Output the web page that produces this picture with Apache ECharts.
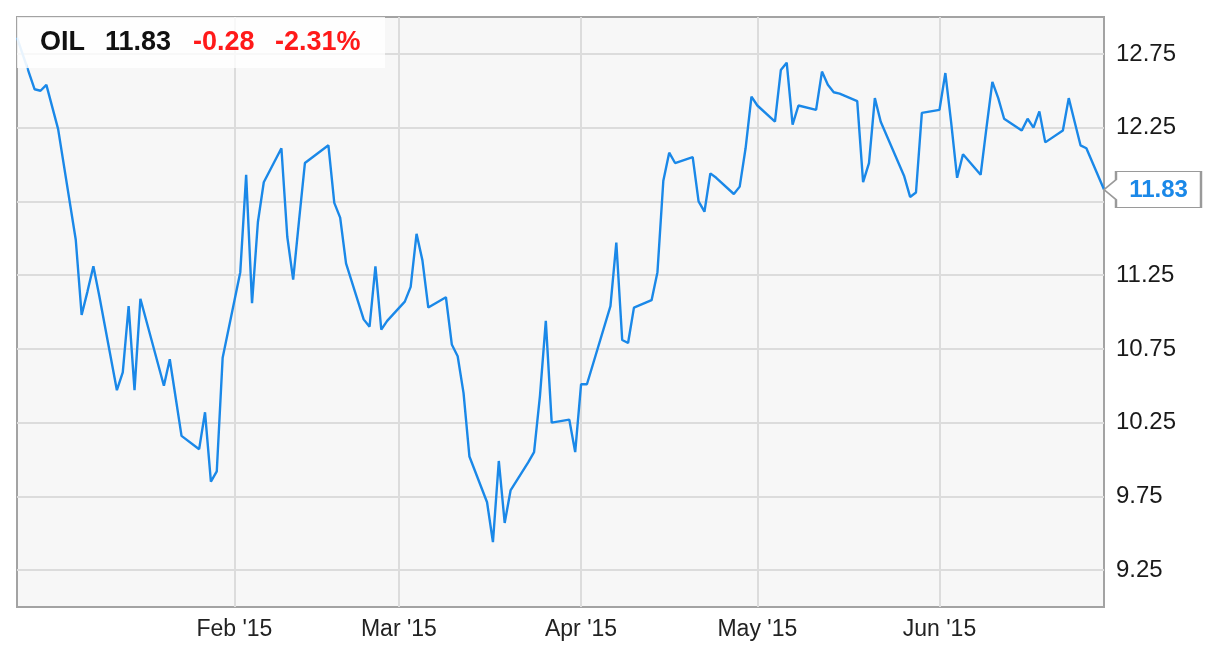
<!DOCTYPE html>
<html>
<head>
<meta charset="utf-8">
<script src="https://cdn.jsdelivr.net/npm/echarts@6/dist/echarts.min.js"></script>
<style>
html,body{margin:0;padding:0;background:#fff;}
#chart{width:1224px;height:660px;}
</style>
</head>
<body>
<div id="chart"></div>
<script>
var ticker = 'OIL';
var dates = ['2014-12-26','2014-12-29','2014-12-30','2014-12-31',
'2015-01-02','2015-01-05','2015-01-06','2015-01-07','2015-01-08','2015-01-09','2015-01-12','2015-01-13','2015-01-14','2015-01-15','2015-01-16','2015-01-20','2015-01-21','2015-01-22','2015-01-23','2015-01-26','2015-01-27','2015-01-28','2015-01-29','2015-01-30',
'2015-02-02','2015-02-03','2015-02-04','2015-02-05','2015-02-06','2015-02-09','2015-02-10','2015-02-11','2015-02-12','2015-02-13','2015-02-17','2015-02-18','2015-02-19','2015-02-20','2015-02-23','2015-02-24','2015-02-25','2015-02-26','2015-02-27',
'2015-03-02','2015-03-03','2015-03-04','2015-03-05','2015-03-06','2015-03-09','2015-03-10','2015-03-11','2015-03-12','2015-03-13','2015-03-16','2015-03-17','2015-03-18','2015-03-19','2015-03-20','2015-03-23','2015-03-24','2015-03-25','2015-03-26','2015-03-27','2015-03-30','2015-03-31',
'2015-04-01','2015-04-02','2015-04-06','2015-04-07','2015-04-08','2015-04-09','2015-04-10','2015-04-13','2015-04-14','2015-04-15','2015-04-16','2015-04-17','2015-04-20','2015-04-21','2015-04-22','2015-04-23','2015-04-24','2015-04-27','2015-04-28','2015-04-29','2015-04-30',
'2015-05-01','2015-05-04','2015-05-05','2015-05-06','2015-05-07','2015-05-08','2015-05-11','2015-05-12','2015-05-13','2015-05-14','2015-05-15','2015-05-18','2015-05-19','2015-05-20','2015-05-21','2015-05-22','2015-05-26','2015-05-27','2015-05-28','2015-05-29',
'2015-06-01','2015-06-02','2015-06-03','2015-06-04','2015-06-05','2015-06-08','2015-06-09','2015-06-10','2015-06-11','2015-06-12','2015-06-15','2015-06-16','2015-06-17','2015-06-18','2015-06-19','2015-06-22','2015-06-23','2015-06-24','2015-06-25','2015-06-26','2015-06-29'];
var prices = [12.86,12.51,12.50,12.54,
12.24,11.49,10.98,11.14,11.31,11.11,10.47,10.59,11.04,10.47,11.09,10.50,10.68,10.42,10.16,10.07,10.32,9.85,9.92,10.69,
11.27,11.93,11.06,11.61,11.88,12.11,11.51,11.22,11.62,12.01,12.13,11.74,11.64,11.33,10.95,10.90,11.31,10.88,10.94,
11.07,11.17,11.53,11.35,11.03,11.10,10.78,10.70,10.45,10.02,9.71,9.44,9.99,9.57,9.79,9.98,10.05,10.43,10.94,10.25,10.27,10.05,
10.51,10.51,11.04,11.47,10.81,10.79,11.03,11.08,11.27,11.89,12.08,12.01,12.05,11.75,11.68,11.94,11.91,11.80,11.85,12.11,12.46,
12.40,12.29,12.64,12.69,12.27,12.40,12.37,12.63,12.54,12.49,12.48,12.43,11.88,12.01,12.45,12.29,11.92,11.78,11.81,12.35,
12.37,12.62,12.28,11.91,12.07,11.93,12.25,12.56,12.45,12.31,12.23,12.31,12.25,12.36,12.15,12.23,12.45,12.29,12.13,12.11,11.83];
var xTickDates = ['2015-02-01','2015-03-01','2015-04-01','2015-05-01','2015-06-01'];
var xTickLabels = ["Feb '15","Mar '15","Apr '15","May '15","Jun '15"];
var yTicks = [9.25, 9.75, 10.25, 10.75, 11.25, 11.75, 12.25, 12.75];
var xRange = ['2014-12-26', '2015-06-29'];
var yRange = [9, 13];

function ts(s){ var p = s.split('-'); return Date.UTC(+p[0], +p[1]-1, +p[2]); }

var seriesData = dates.map(function(d, i){ return [ts(d), prices[i]]; });
var last = prices[prices.length-1];
var prev = prices[prices.length-2];
var chg = last - prev;
var pct = chg / prev * 100;
var xTickTs = xTickDates.map(ts);

var blue = '#1a88e8';
var chart = echarts.init(document.getElementById('chart'));
var font = '"Liberation Sans", Arial, sans-serif';

chart.setOption({
  animation: false,
  backgroundColor: '#ffffff',
  grid: {left: 17, right: 120, top: 17, bottom: 53, show: true, backgroundColor: '#f7f7f7', borderColor: '#a3a3a3', borderWidth: 2},
  xAxis: {
    type: 'value', min: ts(xRange[0]), max: ts(xRange[1]),
    axisLine: {show: false}, axisTick: {show: false, customValues: xTickTs},
    axisLabel: {customValues: xTickTs, color: '#222', fontFamily: font, fontSize: 23, margin: 11,
      formatter: function(v){ var i = xTickTs.indexOf(v); return i >= 0 ? xTickLabels[i] : ''; }},
    splitLine: {show: true, lineStyle: {color: '#dcdcdc', width: 2}}
  },
  yAxis: {
    type: 'value', position: 'right', min: yRange[0], max: yRange[1],
    axisLine: {show: false}, axisTick: {show: false, customValues: yTicks},
    axisLabel: {customValues: yTicks, color: '#1a1a1a', fontFamily: font, fontSize: 24, margin: 12,
      formatter: function(v){ return v.toFixed(2); }},
    splitLine: {show: true, lineStyle: {color: '#dcdcdc', width: 2}}
  },
  series: [{
    type: 'line', data: seriesData, showSymbol: false, symbol: 'none', clip: true,
    lineStyle: {width: 2.4, color: new echarts.graphic.LinearGradient(0, 0, 1, 0, [
      {offset: 0, color: '#8cc4f3'}, {offset: 0.011, color: '#8cc4f3'}, {offset: 0.012, color: blue}, {offset: 1, color: blue}])},
    markPoint: {
      silent: true,
      data: [{coord: seriesData[seriesData.length-1], value: last}],
      symbol: 'path://M0,18 L12,8 L12,0 L97,0 L97,36 L12,36 L12,28 Z',
      symbolSize: [97, 36], symbolKeepAspect: false, symbolOffset: [48.5, 0],
      itemStyle: {color: '#ffffff', borderColor: '#9a9a9a', borderWidth: 1.5},
      label: {show: true, position: 'inside', offset: [6, 1], color: blue, fontFamily: font, fontSize: 24, fontWeight: 'bold',
        formatter: function(p){ return last.toFixed(2); }}
    }
  }],
  graphic: [
    {type: 'rect', left: 17, top: 17, z: 10, shape: {width: 368, height: 51}, style: {fill: 'rgba(255,255,255,0.8)'}},
    {type: 'text', left: 40, top: 29, z: 11, style: {text: ticker, font: 'bold 27px ' + font, fill: '#111'}},
    {type: 'text', left: 105, top: 29, z: 11, style: {text: last.toFixed(2), font: 'bold 27px ' + font, fill: '#111'}},
    {type: 'text', left: 193, top: 29, z: 11, style: {text: chg.toFixed(2), font: 'bold 27px ' + font, fill: '#ff1a1a'}},
    {type: 'text', left: 275, top: 29, z: 11, style: {text: pct.toFixed(2) + '%', font: 'bold 27px ' + font, fill: '#ff1a1a'}}
  ]
});
</script>
</body>
</html>
